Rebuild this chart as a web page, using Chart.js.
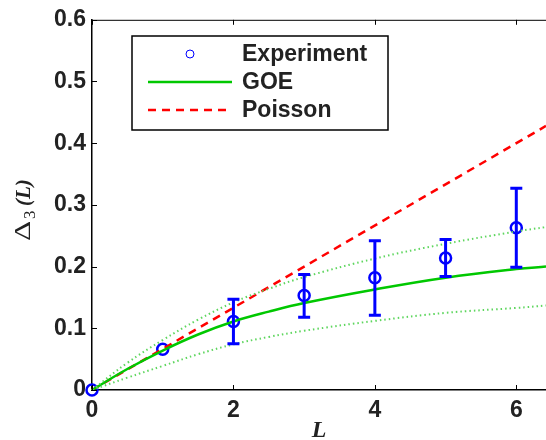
<!DOCTYPE html>
<html>
<head>
<meta charset="utf-8">
<script src="https://cdn.jsdelivr.net/npm/chart.js@4"></script>
<style>
  html, body { margin: 0; padding: 0; background: #fff; }
  #wrap { width: 546px; height: 440px; }
</style>
</head>
<body>
<div id="wrap"><canvas id="delta3Chart" width="546" height="440"></canvas></div>
<script>
// data
const xTicks = [0, 2, 4, 6];
const yTicks = [0, 0.1, 0.2, 0.3, 0.4, 0.5, 0.6];

const expL = [0, 1, 2, 3, 4, 5, 6];
const expVal = [0, 0.066, 0.111, 0.153, 0.182, 0.214, 0.263];
const expLow = [null, null, 0.075, 0.118, 0.121, 0.184, 0.199];
const expHigh = [null, null, 0.147, 0.187, 0.242, 0.244, 0.327];

const goeL = [0, 0.5, 1, 1.5, 2, 2.5, 3, 4, 5, 6, 6.42];
const goeVal = [0, 0.034, 0.064, 0.090, 0.111, 0.127, 0.141, 0.163, 0.182, 0.196, 0.200];
const goeUpper = [0, 0.044, 0.081, 0.114, 0.142, 0.164, 0.183, 0.213, 0.237, 0.257, 0.264];
const goeLower = [0, 0.020, 0.039, 0.058, 0.074, 0.086, 0.096, 0.112, 0.125, 0.133, 0.137];

const poissonL = [0, 6.42];
const poissonVal = [0, 0.428];

const xMax = 6.42;

const pts = (xs, ys) => xs.map((x, i) => ({ x: x, y: ys[i] }));

const BLUE = '#0000ff';
const GREEN = '#00c800';
const LIGHTGREEN = '#5ed65e';
const RED = '#ff0000';
const SANS = '"Liberation Sans", Arial, sans-serif';
const SERIF = '"Liberation Serif", "Times New Roman", serif';

// error bars, frame ticks, legend and y title
const decorations = {
    id: 'decorations',
    afterDatasetsDraw(chart) {
        const ctx = chart.ctx;
        const xs = chart.scales.x, ys = chart.scales.y;

        // error bars
        ctx.save();
        ctx.strokeStyle = BLUE;
        ctx.lineWidth = 3;
        expL.forEach((l, i) => {
            if (expLow[i] === null) return;
            const px = xs.getPixelForValue(l);
            const lo = ys.getPixelForValue(expLow[i]);
            const hi = ys.getPixelForValue(expHigh[i]);
            ctx.beginPath();
            ctx.moveTo(px, lo); ctx.lineTo(px, hi);
            ctx.moveTo(px - 6, lo); ctx.lineTo(px + 6, lo);
            ctx.moveTo(px - 6, hi); ctx.lineTo(px + 6, hi);
            ctx.stroke();
        });
        ctx.restore();
    },
    afterDraw(chart) {
        const ctx = chart.ctx;
        const xs = chart.scales.x, ys = chart.scales.y;
        const area = chart.chartArea;

        ctx.save();
        ctx.strokeStyle = '#000';
        ctx.lineWidth = 1;
        // top border
        ctx.beginPath();
        ctx.moveTo(area.left, area.top + 0.5);
        ctx.lineTo(chart.width, area.top + 0.5);
        ctx.stroke();
        // inward ticks
        ctx.beginPath();
        xTicks.forEach(v => {
            const px = Math.round(xs.getPixelForValue(v)) + 0.5;
            ctx.moveTo(px, area.bottom); ctx.lineTo(px, area.bottom - 5);
            ctx.moveTo(px, area.top); ctx.lineTo(px, area.top + 5);
        });
        yTicks.forEach(v => {
            const py = Math.round(ys.getPixelForValue(v)) + 0.5;
            ctx.moveTo(area.left, py); ctx.lineTo(area.left + 5, py);
        });
        ctx.stroke();

        // legend
        const bx = 132, by = 36, bw = 256, bh = 94;
        ctx.fillStyle = '#fff';
        ctx.fillRect(bx, by, bw, bh);
        ctx.lineWidth = 1.5;
        ctx.strokeRect(bx, by, bw, bh);
        const rows = [54, 82, 110];
        const labels = ['Experiment', 'GOE', 'Poisson'];
        ctx.strokeStyle = BLUE;
        ctx.lineWidth = 1;
        ctx.beginPath();
        ctx.arc(190, rows[0], 4, 0, Math.PI * 2);
        ctx.stroke();
        ctx.strokeStyle = GREEN;
        ctx.lineWidth = 2.5;
        ctx.beginPath();
        ctx.moveTo(148, rows[1]); ctx.lineTo(232, rows[1]);
        ctx.stroke();
        ctx.strokeStyle = RED;
        ctx.setLineDash([8, 6]);
        ctx.beginPath();
        ctx.moveTo(148, rows[2]); ctx.lineTo(232, rows[2]);
        ctx.stroke();
        ctx.setLineDash([]);
        ctx.fillStyle = '#222';
        ctx.font = 'bold 23px ' + SANS;
        ctx.textBaseline = 'middle';
        ctx.textAlign = 'left';
        labels.forEach((t, i) => ctx.fillText(t, 242, rows[i] + 1));

        // y axis title: Δ3(L)
        ctx.translate(30, 241);
        ctx.rotate(-Math.PI / 2);
        ctx.fillStyle = '#222';
        ctx.textBaseline = 'alphabetic';
        ctx.textAlign = 'left';
        ctx.save();
        ctx.scale(1.3, 1);
        ctx.font = '24px ' + SERIF;
        ctx.fillText('\u0394', 0, 0);
        ctx.restore();
        ctx.font = '17px ' + SERIF;
        ctx.fillText('3', 22, 5);
        ctx.font = 'italic bold 21px ' + SERIF;
        ctx.fillText('(L)', 35, 0);
        ctx.restore();
    }
};

const ctx = document.getElementById('delta3Chart').getContext('2d');
const chart = new Chart(ctx, {
    type: 'scatter',
    data: {
        datasets: [
            {
                label: 'GOE upper',
                data: pts(goeL, goeUpper),
                showLine: true,
                borderColor: LIGHTGREEN,
                borderWidth: 2,
                borderDash: [1.5, 3],
                pointRadius: 0,
                tension: 0.4,
                clip: false
            },
            {
                label: 'GOE lower',
                data: pts(goeL, goeLower),
                showLine: true,
                borderColor: LIGHTGREEN,
                borderWidth: 2,
                borderDash: [1.5, 3],
                pointRadius: 0,
                tension: 0.4,
                clip: false
            },
            {
                label: 'GOE',
                data: pts(goeL, goeVal),
                showLine: true,
                borderColor: GREEN,
                borderWidth: 2.5,
                pointRadius: 0,
                tension: 0.4,
                clip: false
            },
            {
                label: 'Poisson',
                data: pts(poissonL, poissonVal),
                showLine: true,
                borderColor: RED,
                borderWidth: 2.5,
                borderDash: [8, 6],
                pointRadius: 0,
                clip: false
            },
            {
                label: 'Experiment',
                data: pts(expL, expVal),
                showLine: false,
                pointStyle: 'circle',
                pointRadius: 5.5,
                pointBorderWidth: 2.5,
                pointBorderColor: BLUE,
                pointBackgroundColor: 'rgba(0,0,0,0)',
                clip: false
            }
        ]
    },
    options: {
        responsive: false,
        animation: false,
        layout: { autoPadding: false, padding: { top: 18, right: 0, left: 0, bottom: 0 } },
        plugins: {
            legend: { display: false },
            tooltip: { enabled: false }
        },
        scales: {
            x: {
                type: 'linear',
                min: 0,
                max: xMax,
                afterBuildTicks: (s) => { s.ticks = xTicks.map(v => ({ value: v })); },
                afterFit: (s) => { s.height = 50; s.paddingLeft = 0; s.paddingRight = 0; },
                grid: { display: false, drawTicks: false },
                border: { display: true, color: '#000', width: 1.5 },
                ticks: {
                    padding: 7,
                    color: '#222',
                    font: { family: SANS, size: 23, weight: 'bold' },
                    maxRotation: 0
                },
                title: {
                    display: true,
                    text: 'L',
                    color: '#222',
                    padding: { top: 0, bottom: -5 },
                    font: { family: SERIF, size: 24, style: 'italic', weight: 'bold' }
                }
            },
            y: {
                type: 'linear',
                min: 0,
                max: 0.6,
                afterBuildTicks: (s) => { s.ticks = yTicks.map(v => ({ value: v })); },
                afterFit: (s) => { s.width = 92; },
                grid: { display: false, drawTicks: false },
                border: { display: true, color: '#000', width: 1.5 },
                ticks: {
                    padding: 6,
                    color: '#222',
                    font: { family: SANS, size: 23, weight: 'bold' },
                    callback: (v) => String(v)
                }
            }
        }
    },
    plugins: [decorations]
});
</script>
</body>
</html>
